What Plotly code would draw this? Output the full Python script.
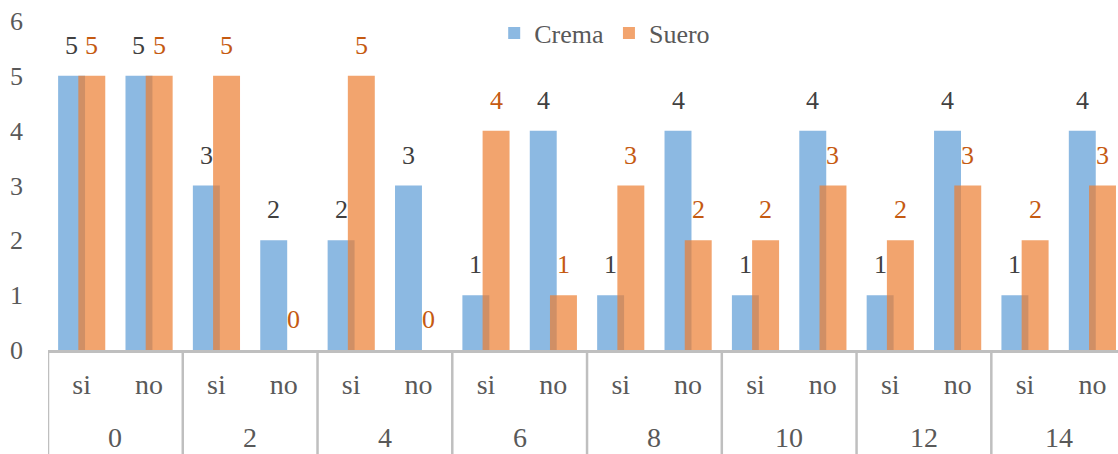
import plotly.graph_objects as go

# Days and the si/no split under each day
days = ["0", "2", "4", "6", "8", "10", "12", "14"]
groups = ["si", "no"]

crema = [5, 5, 3, 2, 2, 3, 1, 4, 1, 4, 1, 4, 1, 4, 1, 4]
suero = [5, 5, 5, 0, 5, 0, 4, 1, 3, 2, 2, 3, 2, 3, 2, 3]

idx = list(range(len(crema)))
inner_labels = [g for _ in days for g in groups]

FONT = "Liberation Serif"
GREY_TXT = "#595959"
LINE = "#BFBFBF"
BLUE = "rgba(91,155,213,0.7)"
ORANGE = "rgba(237,125,49,0.7)"

BAR_W = 0.4
CREMA_OFF = -0.35
SUERO_OFF = -0.05

fig = go.Figure()
fig.add_trace(go.Bar(
    x=idx, y=crema, name="Crema", width=BAR_W, offset=CREMA_OFF,
    marker=dict(color=BLUE, line=dict(width=0)),
))
fig.add_trace(go.Bar(
    x=idx, y=suero, name="Suero", width=BAR_W, offset=SUERO_OFF,
    marker=dict(color=ORANGE, line=dict(width=0)),
))

annotations = []
# value labels above each bar
for i, v in zip(idx, crema):
    annotations.append(dict(
        x=i + CREMA_OFF + BAR_W / 2, y=v, xref="x", yref="y",
        text=str(v), showarrow=False, yanchor="bottom", yshift=14,
        font=dict(family=FONT, size=26, color="#404040"),
    ))
for i, v in zip(idx, suero):
    annotations.append(dict(
        x=i + SUERO_OFF + BAR_W / 2, y=v, xref="x", yref="y",
        text=str(v), showarrow=False, yanchor="bottom", yshift=14,
        font=dict(family=FONT, size=26, color="#C55A11"),
    ))
# outer (day) labels
for k, d in enumerate(days):
    annotations.append(dict(
        x=2 * k + 0.5, y=0, xref="x", yref="paper", yanchor="middle",
        yshift=-87, text=d, showarrow=False,
        font=dict(family=FONT, size=28, color=GREY_TXT),
    ))

# dividers between day groups
shapes = []
for k in range(len(days)):
    xb = 2 * k - 0.5
    shapes.append(dict(
        type="line", xref="x", yref="paper", x0=xb, x1=xb, y0=0, y1=-0.33,
        line=dict(color=LINE, width=2.5),
    ))

fig.update_layout(
    width=1118, height=454,
    margin=dict(l=48, r=0, t=21, b=104),
    barmode="overlay",
    plot_bgcolor="white", paper_bgcolor="white",
    font=dict(family=FONT, color=GREY_TXT),
    showlegend=True,
    legend=dict(
        orientation="h", x=0.417, xanchor="left", y=0.9635, yanchor="middle",
        font=dict(family=FONT, size=26, color=GREY_TXT),
        bgcolor="rgba(0,0,0,0)", itemclick=False,
    ),
    xaxis=dict(
        range=[-0.5, 15.38], tickmode="array", tickvals=idx, ticktext=inner_labels,
        showgrid=False, zeroline=False, ticks="",
        showline=True, linecolor=LINE, linewidth=2.5,
        tickfont=dict(family=FONT, size=28, color=GREY_TXT),
        ticklabelstandoff=8,
    ),
    yaxis=dict(
        range=[0, 6], dtick=1, showgrid=False, zeroline=False, showline=False,
        ticks="", tickfont=dict(family=FONT, size=26, color=GREY_TXT),
        ticklabelstandoff=24,
    ),
    annotations=annotations,
    shapes=shapes,
)

fig.write_html("out.html")
